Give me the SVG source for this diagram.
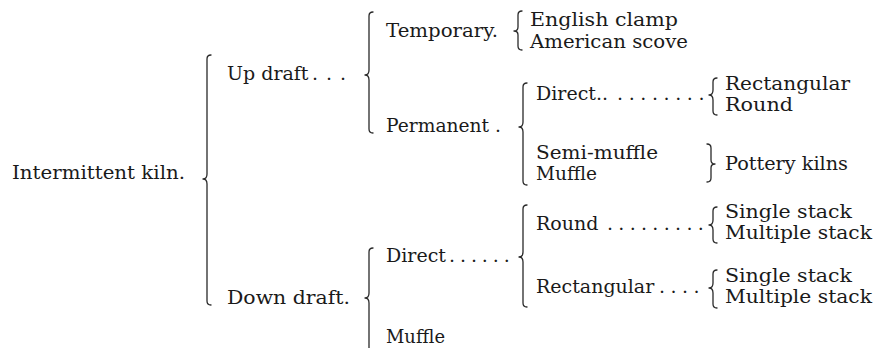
<svg xmlns="http://www.w3.org/2000/svg" width="878" height="348" viewBox="0 0 878 348">
<style>
text{font-family:"DejaVu Serif","Liberation Serif",serif;font-size:19px;fill:#1a1a1a}
.br{fill:none;stroke:#2a2a2a;stroke-width:1.3;stroke-linecap:round;stroke-linejoin:round}
</style>
<rect width="878" height="348" fill="#ffffff"/>
<g id="connectors">
<path class="br" d="M211 55 Q207 55 207 59 L207 174 Q207 179 203 179 Q207 179 207 184 L207 301 Q207 305 211 305"/>
<path class="br" d="M373 12 Q369 12 369 16 L369 70 Q369 75 365 75 Q369 75 369 80 L369 129 Q369 133 373 133"/>
<path class="br" d="M522 11 Q518 11 518 15 L518 27 Q518 31 514 31 Q518 31 518 35 L518 46 Q518 50 522 50"/>
<path class="br" d="M527 83 Q523 83 523 87 L523 122 Q523 127 519 127 Q523 127 523 132 L523 181 Q523 185 527 185"/>
<path class="br" d="M717 78 Q713 78 713 82 L713 90 Q713 95 709 95 Q713 95 713 100 L713 111 Q713 115 717 115"/>
<path class="br" d="M707 144 Q711 144 711 148 L711 160 Q711 164 715 164 Q711 164 711 168 L711 178 Q711 182 707 182"/>
<path class="br" d="M373 248 Q369 248 369 252 L369 293 Q369 298 365 298 Q369 298 369 303 L369 348"/>
<path class="br" d="M527 205 Q523 205 523 209 L523 252 Q523 257 519 257 Q523 257 523 262 L523 303 Q523 307 527 307"/>
<path class="br" d="M717 207 Q713 207 713 211 L713 220 Q713 225 709 225 Q713 225 713 230 L713 239 Q713 243 717 243"/>
<path class="br" d="M717 270 Q713 270 713 274 L713 283 Q713 288 709 288 Q713 288 713 293 L713 304 Q713 308 717 308"/>
</g>
<g id="n-intermittent"><text x="12" y="179" textLength="173" lengthAdjust="spacingAndGlyphs">Intermittent kiln.</text></g>
<g id="n-updraft"><text x="227" y="80">Up draft<tspan x="312" letter-spacing="8">...</tspan></text></g>
<g id="n-temporary"><text x="386" y="37" textLength="112" lengthAdjust="spacingAndGlyphs">Temporary.</text></g>
<g id="n-english"><text x="530" y="26" textLength="148" lengthAdjust="spacingAndGlyphs">English clamp</text></g>
<g id="n-american"><text x="530" y="48" textLength="158" lengthAdjust="spacingAndGlyphs">American scove</text></g>
<g id="n-permanent"><text x="386" y="132" textLength="115" lengthAdjust="spacingAndGlyphs">Permanent .</text></g>
<g id="n-up-direct"><text x="536" y="100">Direct..<tspan x="617" letter-spacing="5.6">........</tspan></text></g>
<g id="n-up-rect"><text x="725" y="90" textLength="125" lengthAdjust="spacingAndGlyphs">Rectangular</text></g>
<g id="n-up-round"><text x="725" y="111" textLength="68" lengthAdjust="spacingAndGlyphs">Round</text></g>
<g id="n-semimuffle"><text x="536" y="159" textLength="122" lengthAdjust="spacingAndGlyphs">Semi-muffle</text></g>
<g id="n-up-muffle"><text x="536" y="180" textLength="61" lengthAdjust="spacingAndGlyphs">Muffle</text></g>
<g id="n-pottery"><text x="725" y="170" textLength="123" lengthAdjust="spacingAndGlyphs">Pottery kilns</text></g>
<g id="n-downdraft"><text x="227" y="304" textLength="123" lengthAdjust="spacingAndGlyphs">Down draft.</text></g>
<g id="n-down-direct"><text x="386" y="262">Direct<tspan x="449" letter-spacing="4.9">......</tspan></text></g>
<g id="n-down-round"><text x="536" y="230">Round<tspan x="607" letter-spacing="5.3">.........</tspan></text></g>
<g id="n-round-single"><text x="725" y="218" textLength="127" lengthAdjust="spacingAndGlyphs">Single stack</text></g>
<g id="n-round-multiple"><text x="725" y="239" textLength="147" lengthAdjust="spacingAndGlyphs">Multiple stack</text></g>
<g id="n-down-rect"><text x="536" y="293">Rectangular<tspan x="659" letter-spacing="5.5">....</tspan></text></g>
<g id="n-rect-single"><text x="725" y="282" textLength="127" lengthAdjust="spacingAndGlyphs">Single stack</text></g>
<g id="n-rect-multiple"><text x="725" y="303" textLength="147" lengthAdjust="spacingAndGlyphs">Multiple stack</text></g>
<g id="n-down-muffle"><text x="386" y="343" textLength="59" lengthAdjust="spacingAndGlyphs">Muffle</text></g>
</svg>
